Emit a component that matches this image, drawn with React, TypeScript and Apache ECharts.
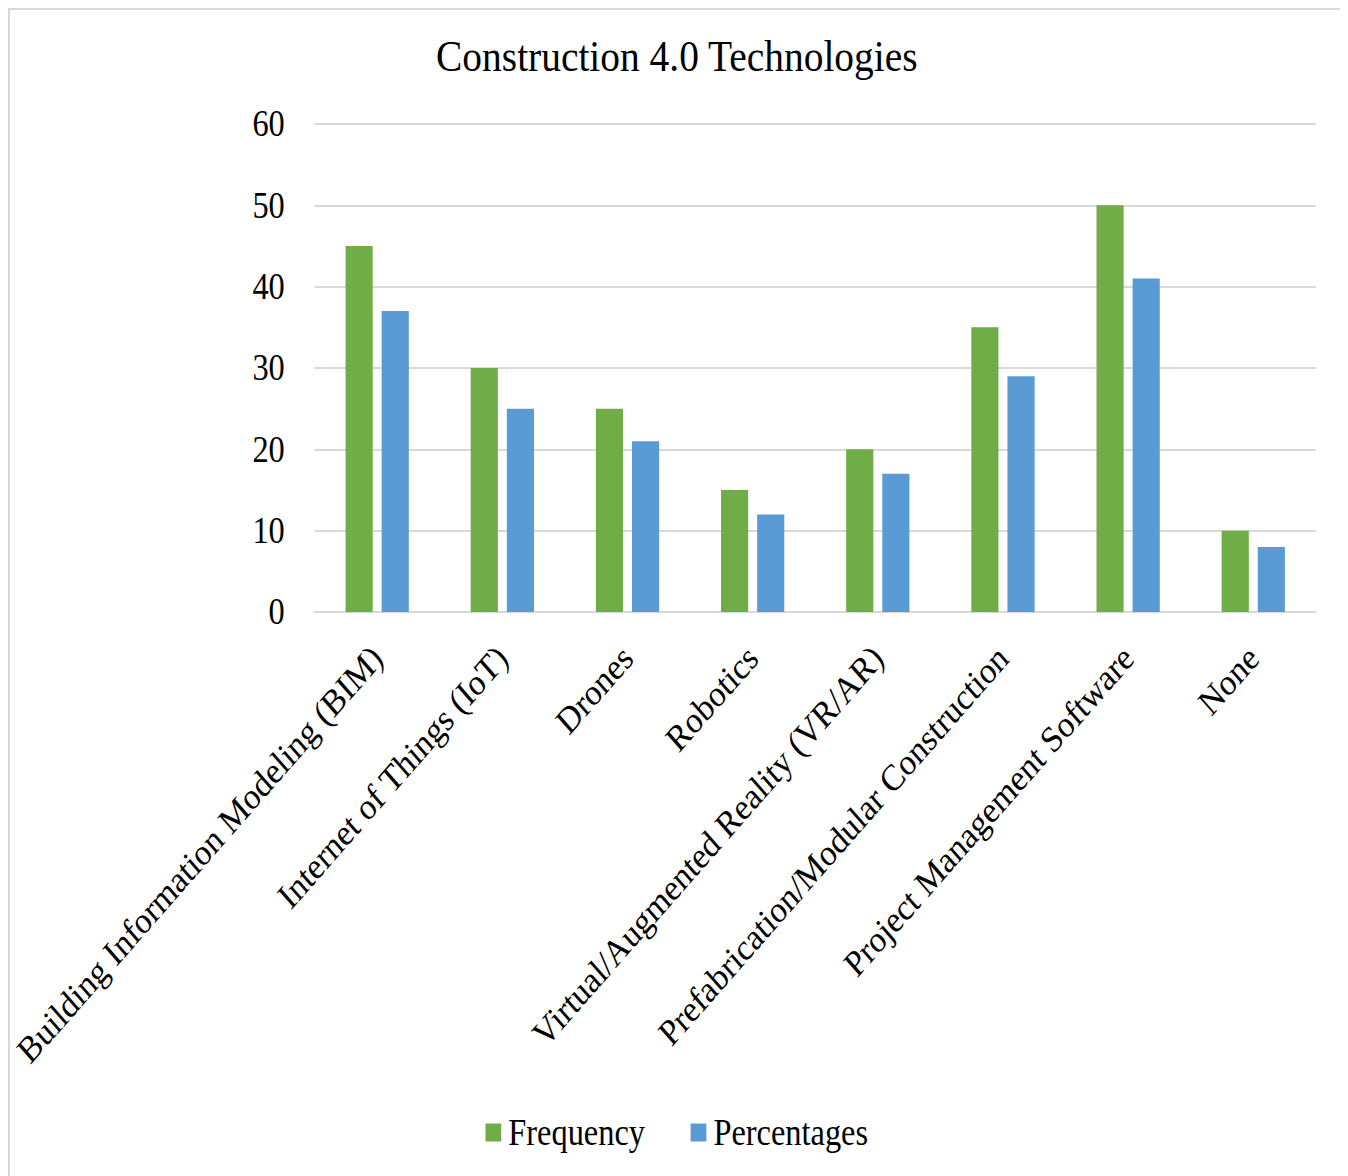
import React, { useEffect, useRef } from "react";
import * as echarts from "echarts";

const categories = [
  "Building Information Modeling (BIM)",
  "Internet of Things (IoT)",
  "Drones",
  "Robotics",
  "Virtual/Augmented Reality (VR/AR)",
  "Prefabrication/Modular Construction",
  "Project Management Software",
  "None",
];
const frequency = [45, 30, 25, 15, 20, 35, 50, 10];
const percentages = [37, 25, 21, 12, 17, 29, 41, 8];
const seriesNames = ["Frequency", "Percentages"];
const titleText = "Construction 4.0 Technologies";

const SCALE_X = 0.876;
const OUTER_W = 1338;
const OUTER_H = 1168;
const INNER_W = Math.round(OUTER_W / SCALE_X);
const FONT = "'Liberation Serif', 'Times New Roman', serif";

export default function App() {
  const ref = useRef<HTMLDivElement>(null);
  useEffect(() => {
    document.documentElement.style.overflow = "hidden";
    const chart = echarts.init(ref.current!, null, { renderer: "svg" });
    chart.setOption({
      animation: false,
      textStyle: { fontFamily: FONT, color: "#000" },
      title: {
        text: titleText,
        left: "center",
        top: 20,
        textStyle: { fontFamily: FONT, fontSize: 45, fontWeight: "normal", color: "#000" },
      },
      legend: {
        data: seriesNames,
        bottom: 20,
        left: "center",
        itemWidth: 18,
        itemHeight: 18,
        itemGap: 52,
        icon: "rect",
        textStyle: { fontFamily: FONT, fontSize: 37, color: "#000", padding: [0, 0, 0, 3] },
      },
      grid: {
        left: 350,
        right: 34,
        top: 116,
        bottom: 564,
        containLabel: false,
        outerBoundsMode: "none",
      },
      xAxis: {
        type: "category",
        data: categories,
        axisLine: { lineStyle: { color: "#d9d9d9", width: 2 } },
        axisTick: { show: false },
        axisLabel: {
          rotate: 45,
          interval: 0,
          margin: 40,
          fontFamily: FONT,
          fontSize: 37,
          color: "#000",
        },
      },
      yAxis: {
        type: "value",
        min: 0,
        max: 60,
        interval: 10,
        axisLine: { show: false },
        axisTick: { show: false },
        splitLine: { lineStyle: { color: "#d9d9d9", width: 2 } },
        axisLabel: { margin: 34, fontFamily: FONT, fontSize: 37, color: "#000" },
      },
      series: [
        {
          name: seriesNames[0],
          type: "bar",
          data: frequency,
          barWidth: 31,
          barGap: "33%",
          itemStyle: { color: "#70AD47" },
        },
        {
          name: seriesNames[1],
          type: "bar",
          data: percentages,
          barWidth: 31,
          barGap: "33%",
          itemStyle: { color: "#5B9BD5" },
        },
      ],
    });
    return () => chart.dispose();
  }, []);
  return (
    <div style={{ position: "relative", width: OUTER_W, height: OUTER_H, overflow: "hidden", background: "#fff" }}>
      <div
        ref={ref}
        style={{
          position: "absolute",
          left: 0,
          top: 0,
          width: INNER_W,
          height: OUTER_H,
          transform: `scaleX(${SCALE_X})`,
          transformOrigin: "0 0",
        }}
      />
      <div
        style={{
          position: "absolute",
          left: 0,
          top: 0,
          width: OUTER_W,
          height: OUTER_H + 10,
          boxSizing: "border-box",
          border: "2px solid #d9d9d9",
          pointerEvents: "none",
        }}
      />
    </div>
  );
}
